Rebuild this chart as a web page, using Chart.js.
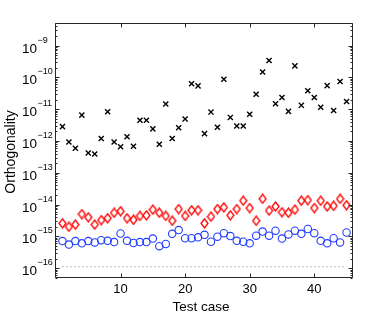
<!DOCTYPE html>
<html>
<head>
<meta charset="utf-8">
<script src="https://cdn.jsdelivr.net/npm/chart.js@4"></script>
<style>
  body { margin: 0; background: #fff; }
  #wrap { width: 390px; height: 314px; }
</style>
</head>
<body>
<div id="wrap"><canvas id="myChart"></canvas></div>
<script>
const testCases = Array.from({ length: 45 }, (_, i) => i + 1);

// black crosses
const crossVals = [
    2.82e-12, 9.3e-13, 5.9e-13, 6.5e-12, 4.2e-13, 3.9e-13, 1.2e-12, 8.3e-12, 9.3e-13, 6.6e-13,
    1.35e-12, 6.8e-13, 4.5e-12, 4.5e-12, 2.4e-12, 7.9e-13, 1.45e-11, 1.2e-12, 2.6e-12, 4.9e-12,
    6.3e-11, 5.4e-11, 1.7e-12, 8.1e-12, 2.7e-12, 8.7e-11, 5.5e-12, 2.95e-12, 2.95e-12, 6.9e-12,
    2.95e-11, 1.48e-10, 3.4e-10, 1.48e-11, 2.34e-11, 8.5e-12, 2.3e-10, 1.32e-11, 3.8e-11, 2.34e-11,
    1.15e-11, 5.5e-11, 9.1e-12, 7.4e-11, 1.74e-11
];
// red diamonds
const diamondVals = [
    2.57e-15, 2.0e-15, 2.34e-15, 5.0e-15, 3.98e-15, 2.34e-15, 3.24e-15, 3.72e-15, 5.5e-15, 6.17e-15,
    3.72e-15, 3.31e-15, 4.37e-15, 4.57e-15, 6.92e-15, 5.5e-15, 4.37e-15, 3.09e-15, 7.24e-15, 4.37e-15,
    6.61e-15, 6.61e-15, 2.57e-15, 4.17e-15, 7.24e-15, 8.13e-15, 4.57e-15, 7.24e-15, 1.32e-14, 7.76e-15,
    3.09e-15, 1.51e-14, 6.46e-15, 8.71e-15, 5.75e-15, 5.5e-15, 6.92e-15, 1.32e-14, 1.38e-14, 7.76e-15,
    1.32e-14, 8.71e-15, 9.12e-15, 1.51e-14, 9.55e-15
];
// blue circles
const circleVals = [
    7.08e-16, 5.5e-16, 7.08e-16, 6.03e-16, 7.08e-16, 6.46e-16, 7.59e-16, 7.24e-16, 6.61e-16, 1.23e-15,
    7.24e-16, 6.17e-16, 6.61e-16, 6.61e-16, 8.51e-16, 4.9e-16, 5.75e-16, 1.2e-15, 1.58e-15, 8.71e-16,
    8.71e-16, 9.33e-16, 1.12e-15, 6.76e-16, 9.77e-16, 1.26e-15, 1.02e-15, 7.24e-16, 6.76e-16, 6.03e-16,
    1.05e-15, 1.41e-15, 1.05e-15, 1.51e-15, 8.51e-16, 1.15e-15, 1.51e-15, 1.2e-15, 1.7e-15, 1.26e-15,
    7.24e-16, 6.03e-16, 8.71e-16, 6.46e-16, 1.32e-15
];
// dotted reference level
const epsLine = [1.11e-16, 1.11e-16];
const epsX = [1, 45];

const xTicks = [10, 20, 30, 40];
const yTickExps = [-16, -15, -14, -13, -12, -11, -10, -9];

const pts = (vals) => vals.map((v, i) => ({ x: testCases[i], y: v }));

const fontFam = '"Liberation Sans", Arial, Helvetica, sans-serif';

// taller-than-wide diamond marker, like matlab's 'd'
const diamond = document.createElement('canvas');
diamond.width = 9;
diamond.height = 11;
{
    const d = diamond.getContext('2d');
    d.strokeStyle = '#ff0000';
    d.lineWidth = 1.3;
    d.beginPath();
    d.moveTo(4.5, 1);
    d.lineTo(8, 5.5);
    d.lineTo(4.5, 10);
    d.lineTo(1, 5.5);
    d.closePath();
    d.stroke();
}

const axesBox = {
    id: 'axesBox',
    afterDraw(chart) {
        const { ctx, chartArea: a, scales: { x, y } } = chart;
        const L = Math.round(a.left) - 0.5, R = Math.round(a.right) - 0.5;
        const T = Math.round(a.top) + 0.5, B = Math.round(a.bottom) - 0.5;
        ctx.save();
        ctx.strokeStyle = '#262626';
        ctx.lineWidth = 1;
        ctx.beginPath();
        ctx.rect(L, T, R - L, B - T);

        // y ticks, major + log minor, both sides
        for (let e = -17; e <= -9; e++) {
            for (let m = 1; m <= 9; m++) {
                const v = m * Math.pow(10, e);
                const p = y.getPixelForValue(v);
                if (p < a.top || p > a.bottom) continue;
                const yp = Math.round(p) + 0.5;
                const len = m === 1 ? 4 : 2;
                ctx.moveTo(L, yp); ctx.lineTo(L + len, yp);
                ctx.moveTo(R, yp); ctx.lineTo(R - len, yp);
            }
        }
        // x ticks, bottom and top
        xTicks.forEach(t => {
            const xp = Math.round(x.getPixelForValue(t)) + 0.5;
            ctx.moveTo(xp, B); ctx.lineTo(xp, B - 4);
            ctx.moveTo(xp, T); ctx.lineTo(xp, T + 4);
        });
        ctx.stroke();

        ctx.fillStyle = '#000';
        // x tick labels
        ctx.font = '13px ' + fontFam;
        ctx.textAlign = 'center';
        ctx.textBaseline = 'top';
        xTicks.forEach(t => {
            ctx.fillText(String(t), x.getPixelForValue(t), a.bottom + 5);
        });

        // y tick labels 10^e
        yTickExps.forEach(e => {
            const yp = y.getPixelForValue(Math.pow(10, e));
            ctx.font = '13.5px ' + fontFam;
            ctx.textAlign = 'right';
            ctx.textBaseline = 'alphabetic';
            ctx.fillText('10', 37, yp + 7);
            ctx.font = '9px ' + fontFam;
            ctx.textAlign = 'left';
            ctx.fillText('\u2212' + String(-e), 37.5, yp - 3);
        });

        // axis titles
        ctx.font = '13.5px ' + fontFam;
        ctx.textAlign = 'center';
        ctx.textBaseline = 'alphabetic';
        ctx.fillText('Test case', 201, 311);

        ctx.translate(15, 152);
        ctx.rotate(-Math.PI / 2);
        ctx.font = '14px ' + fontFam;
        ctx.fillText('Orthogonality', 0, 0);
        ctx.restore();
    }
};

const ctx = document.getElementById('myChart');

new Chart(ctx, {
    type: 'scatter',
    data: {
        datasets: [
            {
                label: 'eps',
                type: 'line',
                data: epsX.map((v, i) => ({ x: v, y: epsLine[i] })),
                borderColor: '#777',
                borderWidth: 1,
                borderDash: [1, 3],
                pointRadius: 0
            },
            {
                label: 'circles',
                data: pts(circleVals),
                pointStyle: 'circle',
                pointRadius: 3.7,
                borderColor: '#1f3cff',
                backgroundColor: 'rgba(0,0,0,0)',
                borderWidth: 1.1
            },
            {
                label: 'diamonds',
                data: pts(diamondVals),
                pointStyle: diamond,
                pointRadius: 4.5
            },
            {
                label: 'crosses',
                data: pts(crossVals),
                pointStyle: 'crossRot',
                pointRadius: 3.6,
                borderColor: '#000',
                borderWidth: 1.4
            }
        ]
    },
    options: {
        responsive: true,
        maintainAspectRatio: false,
        animation: false,
        events: [],
        layout: {
            padding: { left: 0, right: 37, top: 23, bottom: 0 }
        },
        plugins: {
            legend: { display: false },
            tooltip: { enabled: false }
        },
        scales: {
            x: {
                type: 'linear',
                min: 0,
                max: 46,
                grid: { display: false },
                border: { display: false },
                ticks: { display: false },
                afterFit: (s) => { s.height = 36; }
            },
            y: {
                type: 'logarithmic',
                min: Math.pow(10, -16.31),
                max: Math.pow(10, -8.29),
                grid: { display: false },
                border: { display: false },
                ticks: { display: false },
                afterFit: (s) => { s.width = 56; }
            }
        }
    },
    plugins: [axesBox]
});
</script>
</body>
</html>
